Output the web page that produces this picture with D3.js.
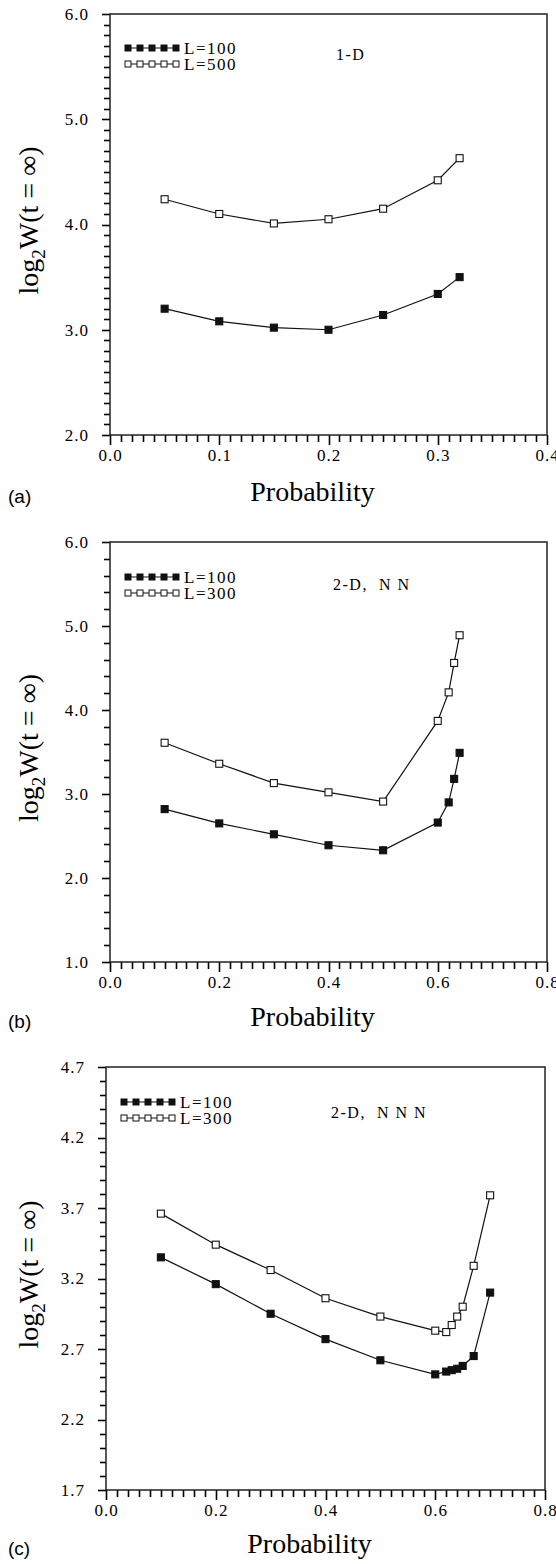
<!DOCTYPE html>
<html>
<head>
<meta charset="utf-8">
<script src="https://cdn.jsdelivr.net/npm/d3@7"></script>
<style>
  body { margin: 0; background: #fff; }
  text { fill: #000; }
</style>
</head>
<body>
<div id="chart"></div>
<script>
// (a) 1-D
const probA = [0.05, 0.1, 0.15, 0.2, 0.25, 0.3, 0.32];
const a100 = [3.20, 3.08, 3.02, 3.00, 3.14, 3.34, 3.50];
const a500 = [4.24, 4.10, 4.01, 4.05, 4.15, 4.42, 4.63];
const ticksAX = [0, 0.1, 0.2, 0.3, 0.4];
const ticksAY = [2, 3, 4, 5, 6];

// (b) 2-D, NN
const probB = [0.1, 0.2, 0.3, 0.4, 0.5, 0.6, 0.62, 0.63, 0.64];
const b100 = [2.82, 2.65, 2.52, 2.39, 2.33, 2.66, 2.90, 3.18, 3.49];
const b300 = [3.61, 3.36, 3.13, 3.02, 2.91, 3.87, 4.21, 4.56, 4.89];
const ticksBX = [0, 0.2, 0.4, 0.6, 0.8];
const ticksBY = [1, 2, 3, 4, 5, 6];

// (c) 2-D, NNN
const probC = [0.1, 0.2, 0.3, 0.4, 0.5, 0.6, 0.62, 0.63, 0.64, 0.65, 0.67, 0.7];
const c100 = [3.35, 3.16, 2.95, 2.77, 2.62, 2.52, 2.54, 2.55, 2.56, 2.58, 2.65, 3.10];
const c300 = [3.66, 3.44, 3.26, 3.06, 2.93, 2.83, 2.82, 2.87, 2.93, 3.00, 3.29, 3.79];
const ticksCX = [0, 0.2, 0.4, 0.6, 0.8];
const ticksCY = [1.7, 2.2, 2.7, 3.2, 3.7, 4.2, 4.7];

const panels = [
  { tag: "(a)", title: "1-D", top: 14, bottom: 435, left: 110, right: 547,
    xTicks: ticksAX, xMinor: 0.01, yTicks: ticksAY, yMinor: 0.1,
    x: probA, lo: a100, hi: a500, names: ["L=100", "L=500"],
    legendY: 48, titleX: 336, titleY: 60, labelY: 501 },
  { tag: "(b)", title: "2-D,  N N", top: 542, bottom: 962, left: 110, right: 547,
    xTicks: ticksBX, xMinor: 0.02, yTicks: ticksBY, yMinor: 0.2,
    x: probB, lo: b100, hi: b300, names: ["L=100", "L=300"],
    legendY: 577, titleX: 333, titleY: 590, labelY: 1026 },
  { tag: "(c)", title: "2-D,  N N N", top: 1067, bottom: 1490, left: 106, right: 545,
    xTicks: ticksCX, xMinor: 0.02, yTicks: ticksCY, yMinor: 0.1,
    x: probC, lo: c100, hi: c300, names: ["L=100", "L=300"],
    legendY: 1102, titleX: 331, titleY: 1118, labelY: 1553 }
];

const W = 556, H = 1564;
const serif = "'Liberation Serif', 'Times New Roman', serif";

const svg = d3.select("#chart")
  .append("svg")
  .attr("width", W)
  .attr("height", H);

const rng = (a, b, step) => d3.range(Math.round(a / step), Math.round(b / step) + 1)
  .map(i => +(i * step).toFixed(4));

panels.forEach(p => {
  const g = svg.append("g");

  const x = d3.scaleLinear()
    .domain(d3.extent(p.xTicks))
    .range([p.left, p.right]);
  const y = d3.scaleLinear()
    .domain(d3.extent(p.yTicks))
    .range([p.bottom, p.top]);

  // tick marks, drawn by hand so minor and major share one style
  const xm = rng(x.domain()[0], x.domain()[1], p.xMinor);
  const ym = rng(y.domain()[0], y.domain()[1], p.yMinor);
  const isMajor = (v, list) => list.some(t => Math.abs(t - v) < 1e-6);

  g.append("g").selectAll("line")
    .data(xm)
    .join("line")
    .attr("x1", d => Math.round(x(d)) + 0.5)
    .attr("x2", d => Math.round(x(d)) + 0.5)
    .attr("y1", p.bottom)
    .attr("y2", d => p.bottom + (isMajor(d, p.xTicks) ? 10 : 7))
    .attr("stroke", "#000")
    .attr("stroke-width", 1.6);

  g.append("g").selectAll("line")
    .data(ym)
    .join("line")
    .attr("y1", d => Math.round(y(d)) + 0.5)
    .attr("y2", d => Math.round(y(d)) + 0.5)
    .attr("x1", p.left)
    .attr("x2", d => p.left - (isMajor(d, p.yTicks) ? 8 : 6))
    .attr("stroke", "#000")
    .attr("stroke-width", 1.6);

  // tick labels
  const xAxis = g.append("g")
    .attr("transform", `translate(0,${p.bottom})`)
    .call(d3.axisBottom(x).tickValues(p.xTicks).tickSize(9).tickPadding(5)
      .tickFormat(d3.format(".1f")));
  xAxis.select(".domain").remove();
  xAxis.selectAll("line").remove();
  xAxis.selectAll("text")
    .attr("font-family", serif)
    .attr("font-size", 17)
    .attr("letter-spacing", 1)
    .attr("fill", "#000");

  const yAxis = g.append("g")
    .attr("transform", `translate(${p.left},0)`)
    .call(d3.axisLeft(y).tickValues(p.yTicks).tickSize(7).tickPadding(14)
      .tickFormat(d3.format(".1f")));
  yAxis.select(".domain").remove();
  yAxis.selectAll("line").remove();
  yAxis.selectAll("text")
    .attr("font-family", serif)
    .attr("font-size", 17)
    .attr("letter-spacing", 1)
    .attr("fill", "#000");

  // frame
  g.append("rect")
    .attr("x", p.left)
    .attr("y", p.top)
    .attr("width", p.right - p.left)
    .attr("height", p.bottom - p.top)
    .attr("fill", "none")
    .attr("stroke", "#222")
    .attr("stroke-width", 1.5);

  // series
  const line = d3.line()
    .x(d => x(d[0]))
    .y(d => y(d[1]));

  [[p.lo, true], [p.hi, false]].forEach(([vals, filled]) => {
    const pts = p.x.map((v, i) => [v, vals[i]]);
    g.append("path")
      .datum(pts)
      .attr("d", line)
      .attr("fill", "none")
      .attr("stroke", "#111")
      .attr("stroke-width", 1.2);
    g.selectAll(null)
      .data(pts)
      .enter()
      .append("rect")
      .attr("x", d => x(d[0]) - 3.5)
      .attr("y", d => y(d[1]) - 3.5)
      .attr("width", 7)
      .attr("height", 7)
      .attr("fill", filled ? "#111" : "#fff")
      .attr("stroke", "#111")
      .attr("stroke-width", 1.1);
  });

  // legend
  const lx0 = p.left + 18, lx1 = p.left + 66;
  [true, false].forEach((filled, k) => {
    const ly = p.legendY + k * 16;
    g.append("line")
      .attr("x1", lx0).attr("x2", lx1)
      .attr("y1", ly).attr("y2", ly)
      .attr("stroke", "#111")
      .attr("stroke-width", 1.2);
    g.selectAll(null)
      .data(d3.range(5))
      .enter()
      .append("rect")
      .attr("x", i => lx0 + i * (lx1 - lx0) / 4 - 3)
      .attr("y", ly - 3)
      .attr("width", 6)
      .attr("height", 6)
      .attr("fill", filled ? "#111" : "#fff")
      .attr("stroke", "#111")
      .attr("stroke-width", 1);
    g.append("text")
      .attr("x", lx1 + 8)
      .attr("y", ly + 6)
      .attr("font-family", serif)
      .attr("font-size", 17)
      .attr("letter-spacing", 1.5)
      .text(p.names[k]);
  });

  g.append("text")
    .attr("x", p.titleX)
    .attr("y", p.titleY)
    .attr("font-family", serif)
    .attr("font-size", 16)
    .attr("letter-spacing", 1.5)
    .style("white-space", "pre")
    .text(p.title);

  // axis titles
  const yl = g.append("text")
    .attr("transform", `translate(38,${(p.top + p.bottom) / 2 - 4}) rotate(-90)`)
    .attr("text-anchor", "middle")
    .attr("font-family", serif)
    .attr("font-size", 28);
  yl.append("tspan").text("log");
  yl.append("tspan").attr("dy", 7).attr("font-size", 19).text("2");
  yl.append("tspan").attr("dy", -7).text("W(t = \u221E)");

  g.append("text")
    .attr("x", (p.left + p.right) / 2 - 16)
    .attr("y", p.labelY)
    .attr("text-anchor", "middle")
    .attr("font-family", serif)
    .attr("font-size", 28)
    .text("Probability");

  g.append("text")
    .attr("x", 8)
    .attr("y", p.labelY + 2)
    .attr("font-family", "'Liberation Sans', Arial, sans-serif")
    .attr("font-size", 19)
    .text(p.tag);
});
</script>
</body>
</html>
